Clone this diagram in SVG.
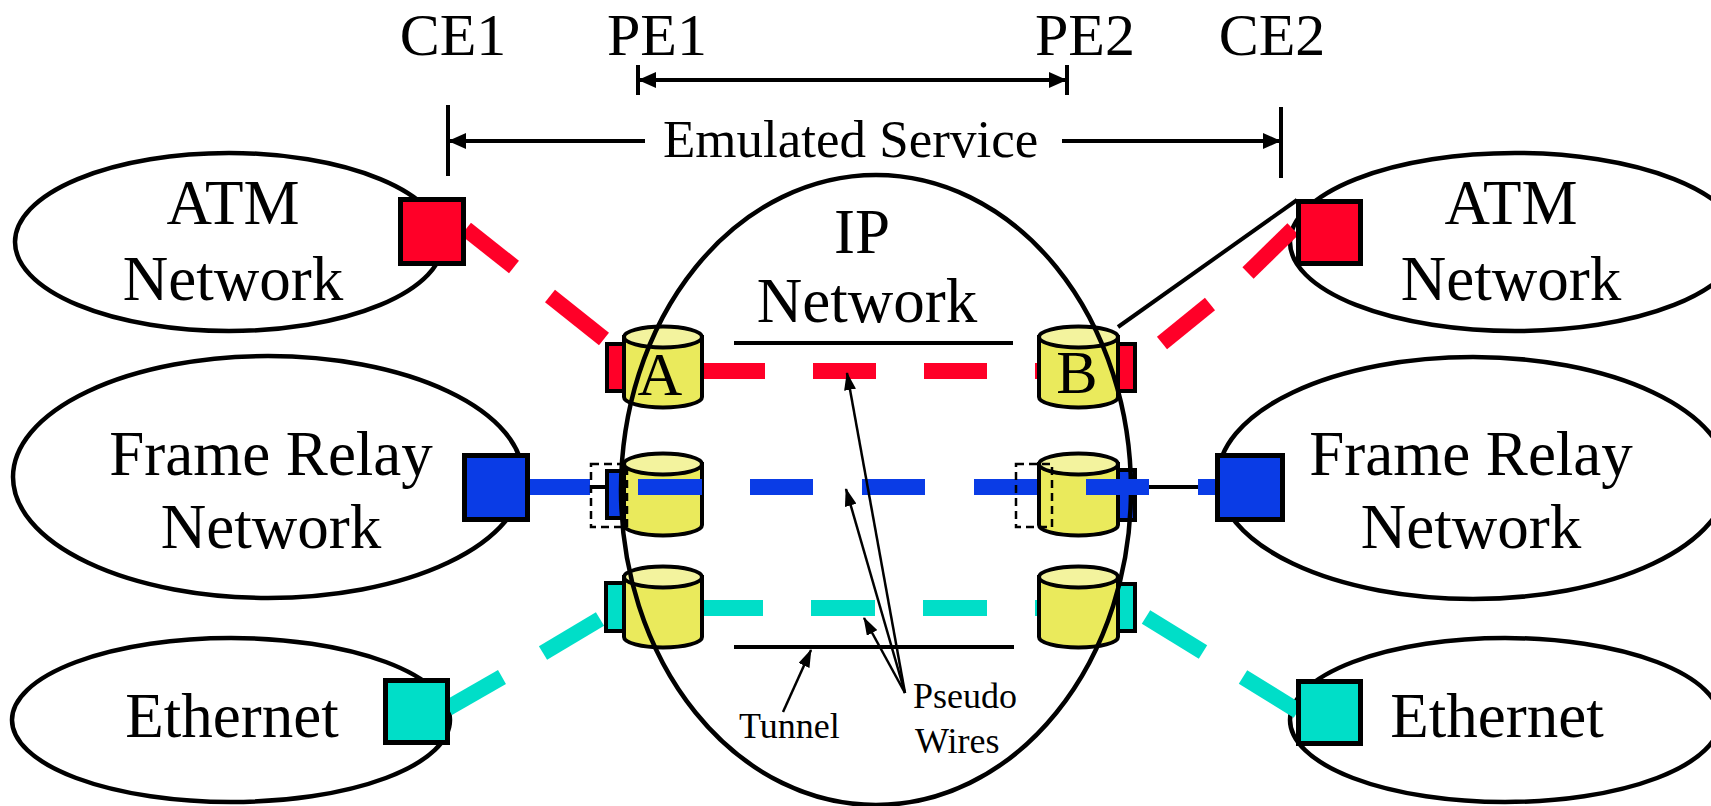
<svg xmlns="http://www.w3.org/2000/svg" width="1711" height="806" viewBox="0 0 1711 806">
<defs>
<style>
.t{font-family:"Liberation Serif","Times New Roman",serif;fill:#000}
.lbl{font-size:63px;text-anchor:middle}
.top{font-size:60px;text-anchor:middle}
.small{font-size:36px}
.oval{fill:#fff;stroke:#000;stroke-width:4.5}
.ovl{fill:none;stroke:#000;stroke-width:4.5}
.box{stroke:#000;stroke-width:5}
.red{fill:#ff0028}
.blue{fill:#0a3ce6}
.cyan{fill:#00dec8}
.port{stroke:#000;stroke-width:4}
.body{fill:#eaea5c;stroke:#000;stroke-width:4}
.cap{fill:#f3f39e;stroke:#000;stroke-width:4}
.dr{fill:none;stroke:#ff0028;stroke-width:16}
.db{fill:none;stroke:#0a3ce6;stroke-width:16}
.dc{fill:none;stroke:#00dec8;stroke-width:16}
.blk{fill:none;stroke:#000;stroke-width:4}
.thin{fill:none;stroke:#000;stroke-width:2.5}
.dash{fill:none;stroke:#000;stroke-width:2.5;stroke-dasharray:8 5}
</style>
<marker id="ah" viewBox="0 0 18 16" refX="17" refY="8" markerWidth="18" markerHeight="16" markerUnits="userSpaceOnUse" orient="auto">
<path d="M0,0 L18,8 L0,16 Z" fill="#000"/>
</marker>
<marker id="as" viewBox="0 0 18 12" refX="17" refY="6" markerWidth="18" markerHeight="12" markerUnits="userSpaceOnUse" orient="auto">
<path d="M0,0 L18,6 L0,12 Z" fill="#000"/>
</marker>
</defs>
<rect width="1711" height="806" fill="#fff"/>

<!-- top labels -->
<g id="labels-top">
<text class="t top" x="453" y="55">CE1</text>
<text class="t top" x="657" y="55">PE1</text>
<text class="t top" x="1085" y="55">PE2</text>
<text class="t top" x="1272" y="55">CE2</text>
<text class="t" x="663" y="157" font-size="53">Emulated Service</text>
</g>

<!-- side network ellipses -->
<g id="atm-left"><ellipse class="oval" cx="229" cy="242" rx="214" ry="89"/>
<text class="t lbl" x="233" y="224">ATM</text><text class="t lbl" x="233" y="300">Network</text></g>
<g id="fr-left"><ellipse class="oval" cx="268" cy="477" rx="255" ry="121"/>
<text class="t lbl" x="271" y="475">Frame Relay</text><text class="t lbl" x="271" y="548">Network</text></g>
<g id="eth-left"><ellipse class="oval" cx="231" cy="720" rx="219" ry="82"/>
<text class="t lbl" x="232" y="737">Ethernet</text></g>
<g id="atm-right"><ellipse class="oval" cx="1515" cy="242" rx="225" ry="89"/>
<text class="t lbl" x="1511" y="224">ATM</text><text class="t lbl" x="1511" y="300">Network</text></g>
<g id="fr-right"><ellipse class="oval" cx="1473" cy="478" rx="255" ry="121"/>
<text class="t lbl" x="1471" y="475">Frame Relay</text><text class="t lbl" x="1471" y="548">Network</text></g>
<g id="eth-right"><ellipse class="oval" cx="1505" cy="720" rx="215" ry="82"/>
<text class="t lbl" x="1497" y="737">Ethernet</text></g>

<!-- IP network ellipse fill -->
<g id="ip-network-bg"><ellipse cx="876" cy="490" rx="255" ry="315" fill="#fff"/></g>

<g id="connectors">
<!-- top dimension arrows -->
<line class="blk" x1="638" y1="65" x2="638" y2="95"/>
<line class="blk" x1="1067" y1="65" x2="1067" y2="95"/>
<line class="blk" x1="1066" y1="80" x2="639" y2="80" marker-end="url(#ah)"/>
<line class="blk" x1="639" y1="80" x2="1066" y2="80" marker-end="url(#ah)"/>
<line class="blk" x1="448" y1="105" x2="448" y2="176"/>
<line class="blk" x1="1281" y1="107" x2="1281" y2="178"/>
<line class="blk" x1="645" y1="141" x2="449" y2="141" marker-end="url(#ah)"/>
<line class="blk" x1="1062" y1="141" x2="1280" y2="141" marker-end="url(#ah)"/>

<!-- tunnel lines -->
<line class="blk" x1="734" y1="343" x2="1013" y2="343"/>
<line class="blk" x1="734" y1="647" x2="1014" y2="647"/>

<!-- red pseudo wire (behind cylinders) -->
<line class="dr" x1="466" y1="229" x2="514" y2="267"/>
<line class="dr" x1="550" y1="296" x2="604" y2="339"/>
<path class="dr" d="M702,371 H765 M813,371 H876 M924,371 H987 M1035,371 H1098"/>
<line class="dr" x1="1293" y1="229" x2="1248" y2="273"/>
<line class="dr" x1="1210" y1="304" x2="1162" y2="343"/>
<line class="blk" x1="1118" y1="327" x2="1297" y2="200"/>

<!-- cyan pseudo wire -->
<line class="dc" x1="448" y1="708" x2="502" y2="677"/>
<line class="dc" x1="543" y1="653" x2="600" y2="619"/>
<path class="dc" d="M699,608 H763 M811,608 H875 M923,608 H987 M1035,608 H1098"/>
<line class="dc" x1="1146" y1="617" x2="1203" y2="652"/>
<line class="dc" x1="1243" y1="677" x2="1298" y2="711"/>

<!-- blue short black links -->
<line class="blk" x1="588" y1="487" x2="607" y2="487"/>
<line class="blk" x1="1148" y1="487" x2="1200" y2="487"/>
</g>

<!-- PE ports and cylinders -->
<g id="pe1-atm">
<rect class="port red" x="607" y="344" width="22" height="47"/>
<path class="body" d="M624,337 V397 A39,10.5 0 0 0 702,397 V337 Z"/>
<ellipse class="cap" cx="663" cy="337" rx="39" ry="10.5"/>
<text class="t" x="660" y="395" font-size="62" text-anchor="middle">A</text>
</g>
<g id="pe1-fr">
<rect class="port blue" x="607" y="471" width="22" height="47"/>
<path class="body" d="M624,464 V525 A39,10.5 0 0 0 702,525 V464 Z"/>
<ellipse class="cap" cx="663" cy="464" rx="39" ry="10.5"/>
</g>
<g id="pe1-eth">
<rect class="port cyan" x="606" y="583" width="23" height="48"/>
<path class="body" d="M624,577 V637 A39,10.5 0 0 0 702,637 V577 Z"/>
<ellipse class="cap" cx="663" cy="577" rx="39" ry="10.5"/>
</g>
<g id="pe2-atm">
<rect class="port red" x="1112" y="344" width="23" height="47"/>
<path class="body" d="M1039,337 V397 A39.5,10.5 0 0 0 1118,397 V337 Z"/>
<ellipse class="cap" cx="1078.5" cy="337" rx="39.5" ry="10.5"/>
<text class="t" x="1077" y="393" font-size="62" text-anchor="middle">B</text>
</g>
<g id="pe2-fr">
<rect class="port blue" x="1112" y="470" width="23" height="50"/>
<path class="body" d="M1039,464 V525 A39.5,10.5 0 0 0 1118,525 V464 Z"/>
<ellipse class="cap" cx="1078.5" cy="464" rx="39.5" ry="10.5"/>
</g>
<g id="pe2-eth">
<rect class="port cyan" x="1112" y="584" width="23" height="47"/>
<path class="body" d="M1039,577 V637 A39.5,10.5 0 0 0 1118,637 V577 Z"/>
<ellipse class="cap" cx="1078.5" cy="577" rx="39.5" ry="10.5"/>
</g>

<!-- IP network outline and labels -->
<g id="ip-network">
<ellipse class="ovl" cx="876" cy="490" rx="255" ry="315"/>
<text class="t lbl" x="862" y="253">IP</text>
<text class="t lbl" x="867" y="322">Network</text>
</g>

<g id="connectors-front">
<!-- blue pseudo wire (in front) -->
<path class="db" d="M526,487 H590 M638,487 H702 M750,487 H813 M862,487 H925 M974,487 H1037 M1086,487 H1149 M1198,487 H1240"/>
<rect class="dash" x="591" y="464" width="36" height="63"/>
<rect class="dash" x="1016" y="464" width="36" height="63"/>
<!-- callout arrows -->
<line class="thin" x1="783" y1="712" x2="811" y2="650" marker-end="url(#as)"/>
<line class="thin" x1="905" y1="693" x2="864" y2="618" marker-end="url(#as)"/>
<line class="thin" x1="905" y1="693" x2="846" y2="489" marker-end="url(#as)"/>
<line class="thin" x1="905" y1="693" x2="847" y2="373" marker-end="url(#as)"/>
</g>

<g id="callout-labels">
<text class="t small" x="739" y="738">Tunnel</text>
<text class="t small" x="913" y="708">Pseudo</text>
<text class="t small" x="915" y="753">Wires</text>
</g>

<!-- CE boxes -->
<g id="ce1-atm"><rect class="box red" x="400.5" y="199.5" width="63" height="64"/></g>
<g id="ce1-fr"><rect class="box blue" x="464.5" y="455.5" width="63" height="64"/></g>
<g id="ce1-eth"><rect class="box cyan" x="385.5" y="680.5" width="62" height="62"/></g>
<g id="ce2-atm"><rect class="box red" x="1298.5" y="201.5" width="62" height="62"/></g>
<g id="ce2-fr"><rect class="box blue" x="1217.5" y="455.5" width="65" height="64"/></g>
<g id="ce2-eth"><rect class="box cyan" x="1298.5" y="681.5" width="62" height="62"/></g>
</svg>
